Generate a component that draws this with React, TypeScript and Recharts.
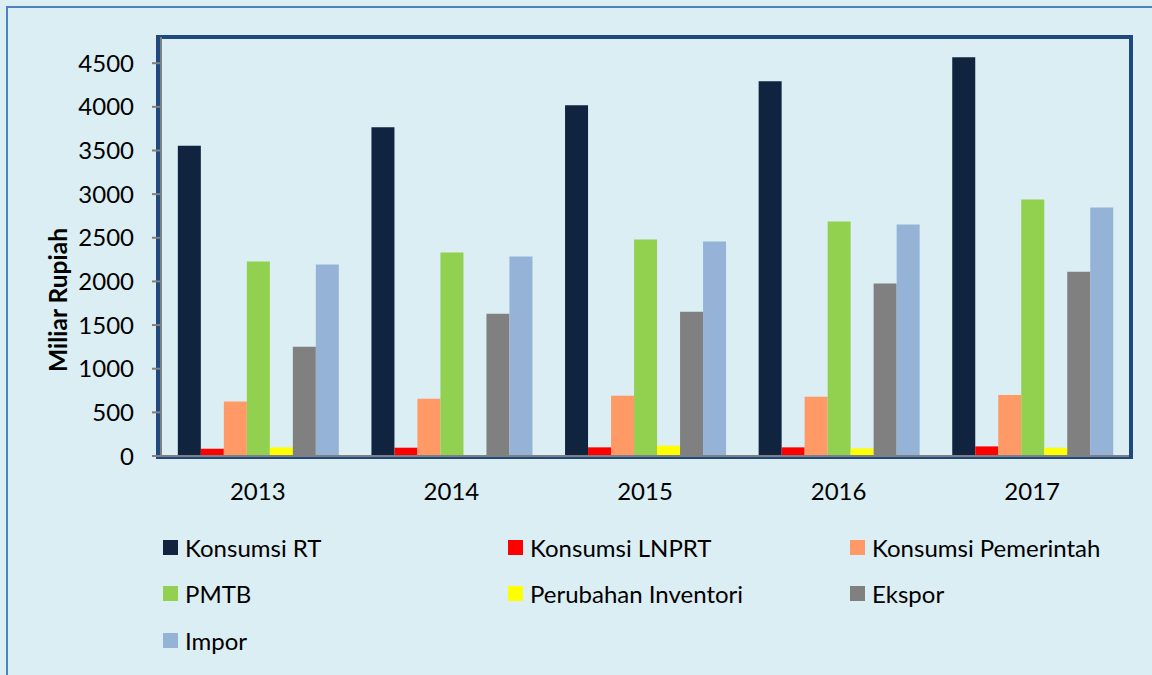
import React from 'react';
import { BarChart, Bar, XAxis, YAxis, Label } from 'recharts';

const years = ['2013', '2014', '2015', '2016', '2017'];
const konsumsiRT = [3555, 3765, 4018, 4294, 4569];
const konsumsiLNPRT = [83, 95, 99, 99, 110];
const konsumsiPemerintah = [625, 656, 691, 679, 699];
const pmtb = [2227, 2331, 2480, 2687, 2939];
const perubahanInventori = [99, -30, 118, 87, 95];
const ekspor = [1251, 1630, 1653, 1975, 2112];
const impor = [2193, 2285, 2457, 2652, 2847];
const yTicks = [0, 500, 1000, 1500, 2000, 2500, 3000, 3500, 4000, 4500];

const series = [
  { key: 'rt', name: 'Konsumsi RT', values: konsumsiRT, color: '#10243F' },
  { key: 'lnprt', name: 'Konsumsi LNPRT', values: konsumsiLNPRT, color: '#FF0000' },
  { key: 'pem', name: 'Konsumsi Pemerintah', values: konsumsiPemerintah, color: '#FF9966' },
  { key: 'pmtb', name: 'PMTB', values: pmtb, color: '#92D050' },
  { key: 'inv', name: 'Perubahan Inventori', values: perubahanInventori, color: '#FFFF00' },
  { key: 'eks', name: 'Ekspor', values: ekspor, color: '#808080' },
  { key: 'imp', name: 'Impor', values: impor, color: '#95B3D7' },
];

const data = years.map((y, i) => {
  const row: Record<string, any> = { year: y };
  series.forEach((s) => {
    row[s.key] = s.values[i];
  });
  return row;
});

const FONT = 'Lato, "Open Sans", sans-serif';
const legendCols = [163, 508, 850];
const legendRows = [547, 593, 640];

export default function App() {
  return (
    <div
      style={{
        position: 'absolute',
        left: 0,
        top: 0,
        width: 1152,
        height: 675,
        background: '#DAEEF3',
        overflow: 'hidden',
        fontFamily: FONT,
      }}
    >
      <div
        style={{
          position: 'absolute',
          left: 6,
          top: 6,
          width: 1160,
          height: 700,
          borderLeft: '2px solid #4F81BD',
          borderTop: '2px solid #4F81BD',
        }}
      />
      <div
        style={{
          position: 'absolute',
          left: 156,
          top: 35,
          width: 969,
          height: 416,
          border: '4px solid #1F497D',
        }}
      />
      <div style={{ position: 'absolute', left: 0, top: 0 }}>
        <BarChart
          width={1152}
          height={675}
          data={data}
          margin={{ top: 37, right: 23, bottom: 189, left: 0 }}
          barCategoryGap="8.7%"
          barGap={0}
        >
          <XAxis
            dataKey="year"
            height={30}
            tickLine={false}
            tickSize={0}
            tickMargin={27}
            axisLine={{ stroke: '#808080', strokeWidth: 2 }}
            tick={{ fontSize: 24, fill: '#000', fontFamily: FONT }}
          />
          <YAxis
            width={161}
            domain={[0, 4800]}
            ticks={yTicks}
            allowDataOverflow
            tickSize={9}
            tickMargin={18}
            axisLine={{ stroke: '#808080', strokeWidth: 2 }}
            tickLine={{ stroke: '#808080', strokeWidth: 2 }}
            tick={{ fontSize: 24, fill: '#000', fontFamily: FONT }}
          >
            <Label
              content={() => (
                <text
                  x={57}
                  y={300}
                  transform="rotate(-90, 57, 300)"
                  textAnchor="middle"
                  dominantBaseline="central"
                  fontSize={24.5}
                  fontWeight="bold"
                  fontFamily={FONT}
                  fill="#000"
                >
                  Miliar Rupiah
                </text>
              )}
            />
          </YAxis>
          {series.map((s) => (
            <Bar key={s.key} dataKey={s.key} name={s.name} fill={s.color} isAnimationActive={false} />
          ))}
        </BarChart>
      </div>
      {series.map((s, i) => {
        const col = i % 3;
        const row = Math.floor(i / 3);
        return (
          <div
            key={s.key}
            style={{
              position: 'absolute',
              left: legendCols[col],
              top: legendRows[row] - 15,
              height: 30,
              display: 'flex',
              alignItems: 'center',
              fontSize: 24,
              color: '#000',
              whiteSpace: 'nowrap',
            }}
          >
            <span style={{ display: 'inline-block', width: 15, height: 15, background: s.color, marginRight: 7 }} />
            <span>{s.name}</span>
          </div>
        );
      })}
    </div>
  );
}
